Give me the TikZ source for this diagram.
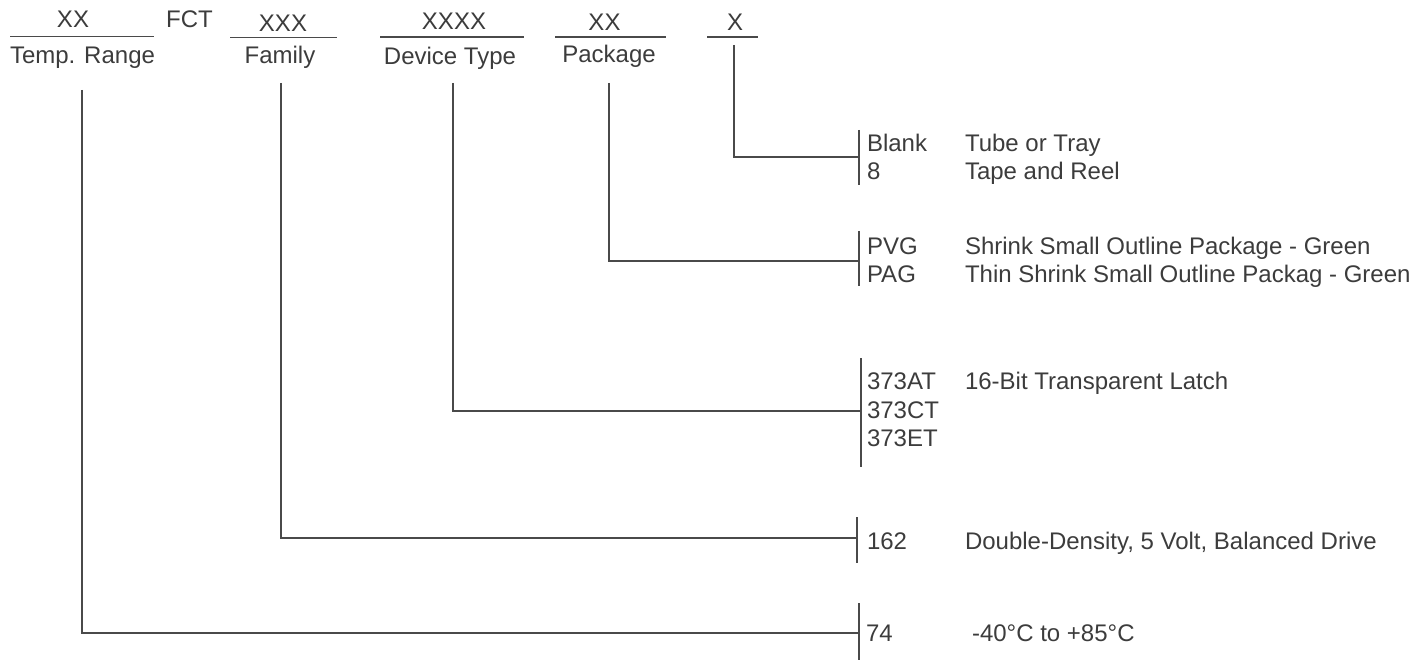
\documentclass[tikz,border=0pt]{standalone}
\usepackage{fontspec}
\setmainfont{Liberation Sans}
\definecolor{ink}{HTML}{3C3C3C}
\definecolor{wire}{HTML}{4A4A4A}
\begin{document}
\begin{tikzpicture}[x=1pt,y=-1pt,
  txt/.style={inner sep=0pt,outer sep=0pt,text=ink,font=\fontsize{24}{28}\selectfont},
  lbl/.style={txt,anchor=base west},
  ctr/.style={txt,anchor=base},
  wire/.style={draw=wire,line width=1.2pt},
  brk/.style={draw=wire,line width=1.2pt}]
\useasboundingbox (0,0) rectangle (1419,660);
% header fields
\node[ctr] (hTemp) at (73,28) {XX};
\node[ctr] (hFCT) at (189.5,28) {FCT};
\node[ctr] (hFam) at (283,31.5) {XXX};
\node[ctr] (hDev) at (454,29.5) {XXXX};
\node[ctr] (hPkg) at (604.5,30.5) {XX};
\node[ctr] (hX) at (735,30.5) {X};
\draw[wire] (10,36.5) -- (154,36.5);
\draw[wire] (230,37.5) -- (337,37.5);
\draw[wire] (380,37) -- (524,37);
\draw[wire] (555,37) -- (666,37);
\draw[wire] (707,37) -- (758,37);
\node[ctr] (lTemp) at (82.5,64) {Temp. Range};
\node[ctr] (lFam) at (280,64) {Family};
\node[ctr] (lDev) at (450,65) {Device Type};
\node[ctr] (lPkg) at (609,63) {Package};
% drop points
\coordinate (dTemp) at (82,90);
\coordinate (dFam) at (281,83);
\coordinate (dDev) at (453,83);
\coordinate (dPkg) at (609,83);
\coordinate (dX) at (734,45);
% brackets
\coordinate (bX1) at (859,130); \coordinate (bX2) at (859,185); \coordinate (bXm) at (859,157);
\coordinate (bP1) at (859,231); \coordinate (bP2) at (859,286); \coordinate (bPm) at (859,261);
\coordinate (bD1) at (861,358); \coordinate (bD2) at (861,467); \coordinate (bDm) at (861,411);
\coordinate (bF1) at (857,517); \coordinate (bF2) at (857,563); \coordinate (bFm) at (857,538);
\coordinate (bT1) at (859,603); \coordinate (bT2) at (859,660); \coordinate (bTm) at (859,633);
\draw[brk] (bX1) -- (bX2);
\draw[brk] (bP1) -- (bP2);
\draw[brk] (bD1) -- (bD2);
\draw[brk] (bF1) -- (bF2);
\draw[brk] (bT1) -- (bT2);
% connectors
\draw[wire] (dX) |- (bXm);
\draw[wire] (dPkg) |- (bPm);
\draw[wire] (dDev) |- (bDm);
\draw[wire] (dFam) |- (bFm);
\draw[wire] (dTemp) |- (bTm);
% option texts
\node[lbl] (cBlank) at (867,152) {Blank};
\node[lbl] (c8) at (867,180) {8};
\node[lbl] (tBlank) at (965,152) {Tube or Tray};
\node[lbl] (t8) at (965,180) {Tape and Reel};
\node[lbl] (cPVG) at (867,255) {PVG};
\node[lbl] (cPAG) at (867,283) {PAG};
\node[lbl] (tPVG) at (965,255) {Shrink Small Outline Package - Green};
\node[lbl] (tPAG) at (965,283) {Thin Shrink Small Outline Packag - Green};
\node[lbl] (cAT) at (867,389) {373AT};
\node[lbl] (cCT) at (867,418) {373CT};
\node[lbl] (cET) at (867,446) {373ET};
\node[lbl] (tAT) at (965,389) {16-Bit Transparent Latch};
\node[lbl] (c162) at (867,549) {162};
\node[lbl] (t162) at (965,549) {Double-Density, 5 Volt, Balanced Drive};
\node[lbl] (c74) at (866,641) {74};
\node[lbl] (t74) at (972,641) {-40°C to +85°C};
\end{tikzpicture}
\end{document}
